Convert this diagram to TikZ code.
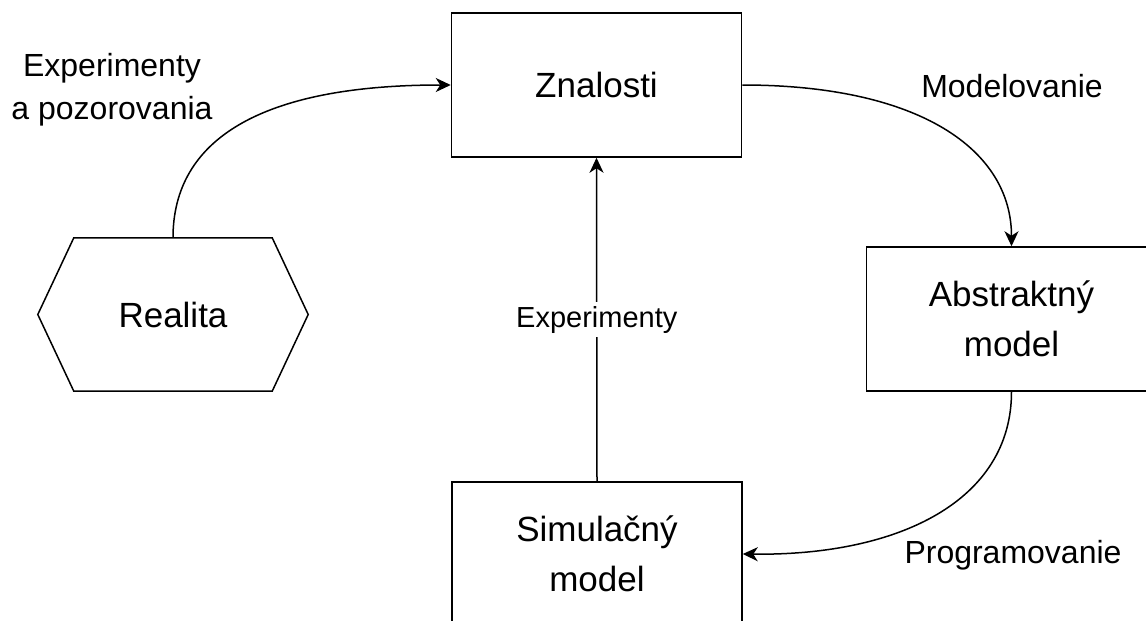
\documentclass[tikz,border=0pt]{standalone}
\usepackage{fontspec}
\setmainfont{Liberation Sans}
\usetikzlibrary{arrows.meta}
\tikzset{
  box/.style={draw, line width=1.5pt, minimum width=290pt, minimum height=144pt, inner sep=0pt, align=center, font=\fontsize{35}{50}\selectfont},
  plain/.style={inner sep=0pt, align=center},
  elabel/.style={inner sep=0pt, align=center, font=\fontsize{32}{43}\selectfont},
  conn/.style={line width=1.5pt, -{Stealth[length=15pt, width=14pt, inset=4.5pt]}}
}
\begin{document}
\begin{tikzpicture}[x=1pt, y=-1pt]
\useasboundingbox (0,0) rectangle (1146,621);
\clip (0,0) rectangle (1146,621);
\node[box] (zn) at (596.5,85) {Znalosti};
\node[box] (ab) at (1011.5,319) {Abstraktný\\model};
\node[box] (sim) at (597,554) {Simulačný\\model};
\node[plain, minimum width=270pt, minimum height=153pt, font=\fontsize{35}{50}\selectfont] (real) at (173,314.5) {Realita};
\draw[line width=1.5pt] (real.west) -- ([xshift=36pt]real.north west) -- ([xshift=-36pt]real.north east) -- (real.east) -- ([xshift=-36pt]real.south east) -- ([xshift=36pt]real.south west) -- cycle;
\coordinate (realtop) at (real.north);
\draw[conn] (realtop) .. controls (173,140) and (260,85) .. (zn.west);
\draw[conn] (zn.east) .. controls (920,85) and (1011.5,150) .. (ab.north);
\draw[conn] (ab.south) .. controls (1011.5,500) and (900,556) .. (sim.east);
\draw[conn] (sim.north) -- node[fill=white, inner sep=4pt, font=\fontsize{29}{35}\selectfont] (explbl) {Experimenty} (zn.south);
\node[elabel] (l1) at (112,90) {Experimenty\\a pozorovania};
\node[elabel] (l2) at (1012,86) {Modelovanie};
\node[elabel] (l3) at (1013,555) {Programovanie};
\end{tikzpicture}
\end{document}
